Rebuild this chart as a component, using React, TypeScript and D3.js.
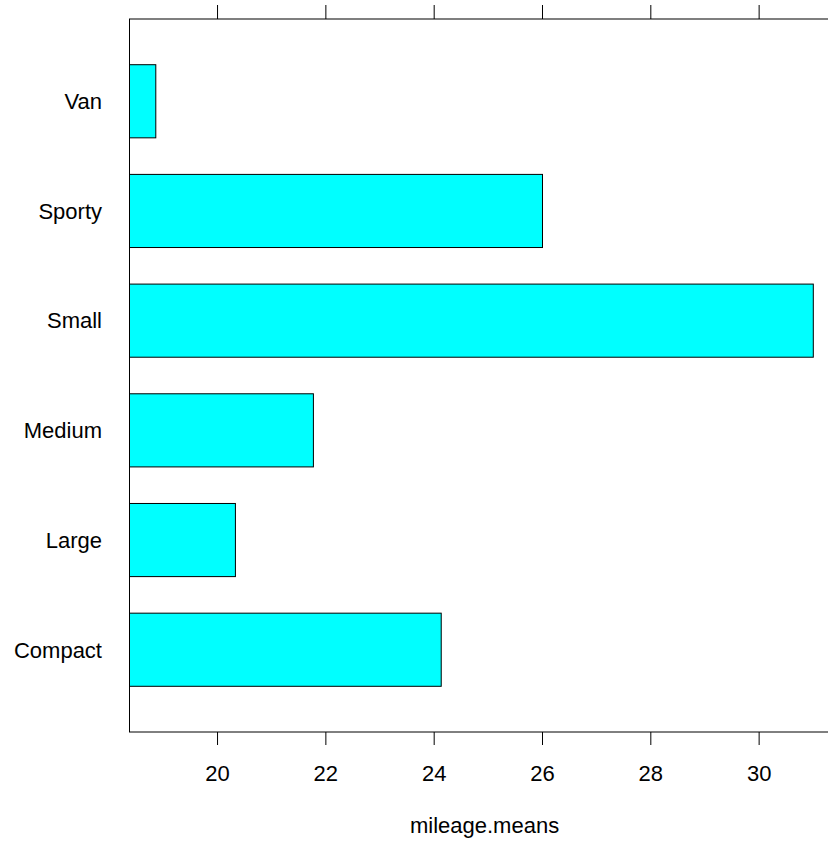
import React from "react";
import * as d3 from "d3";

const categories = ["Compact", "Large", "Medium", "Small", "Sporty", "Van"];
const mileageMeans = [24.13, 20.33, 21.77, 31.0, 26.0, 18.86];
const xTicks = [20, 22, 24, 26, 28, 30];
const xTitle = "mileage.means";

const W = 828;
const H = 844;
const left = 129.5;
const top = 19;
const bottom = 732;

export default function App() {
  const lo = d3.min(mileageMeans) as number;
  const hi = d3.max(mileageMeans) as number;
  const pad = (hi - lo) * 0.04;
  const x = d3.scaleLinear().domain([lo - pad, hi + pad]).range([left, 839.6]);
  const y = d3
    .scaleLinear()
    .domain([0.25, categories.length + 0.75])
    .range([bottom, top]);
  const barH = Math.abs(y(0) - y(2 / 3));
  const right = x(hi + pad);
  const font = "'Liberation Sans', Arial, Helvetica, sans-serif";
  const fs = 22;
  return (
    <div style={{ position: "absolute", left: 0, top: 0 }}>
      <svg width={W} height={H} style={{ display: "block", background: "#fff" }}>
        {mileageMeans.map((v, i) => (
          <rect
            key={categories[i]}
            x={x(lo - pad)}
            y={y(i + 1) - barH / 2}
            width={x(v) - x(lo - pad)}
            height={barH}
            fill="#00FFFF"
            stroke="#000"
            strokeWidth={1}
          />
        ))}
        <rect
          x={left}
          y={top}
          width={right - left}
          height={bottom - top}
          fill="none"
          stroke="#000"
          strokeWidth={1}
        />
        {xTicks.map((t) => (
          <g key={t}>
            <line x1={x(t)} x2={x(t)} y1={top} y2={top - 14} stroke="#000" />
            <line x1={x(t)} x2={x(t)} y1={bottom} y2={bottom + 13} stroke="#000" />
            <text
              x={x(t)}
              y={781}
              textAnchor="middle"
              fontFamily={font}
              fontSize={fs}
              fill="#000"
            >
              {t}
            </text>
          </g>
        ))}
        {categories.map((c, i) => (
          <text
            key={c}
            x={102}
            y={y(i + 1) + 7.8}
            textAnchor="end"
            fontFamily={font}
            fontSize={fs}
            fill="#000"
          >
            {c}
          </text>
        ))}
        <text
          x={(left + right) / 2}
          y={833}
          textAnchor="middle"
          fontFamily={font}
          fontSize={fs}
          fill="#000"
        >
          {xTitle}
        </text>
      </svg>
    </div>
  );
}
